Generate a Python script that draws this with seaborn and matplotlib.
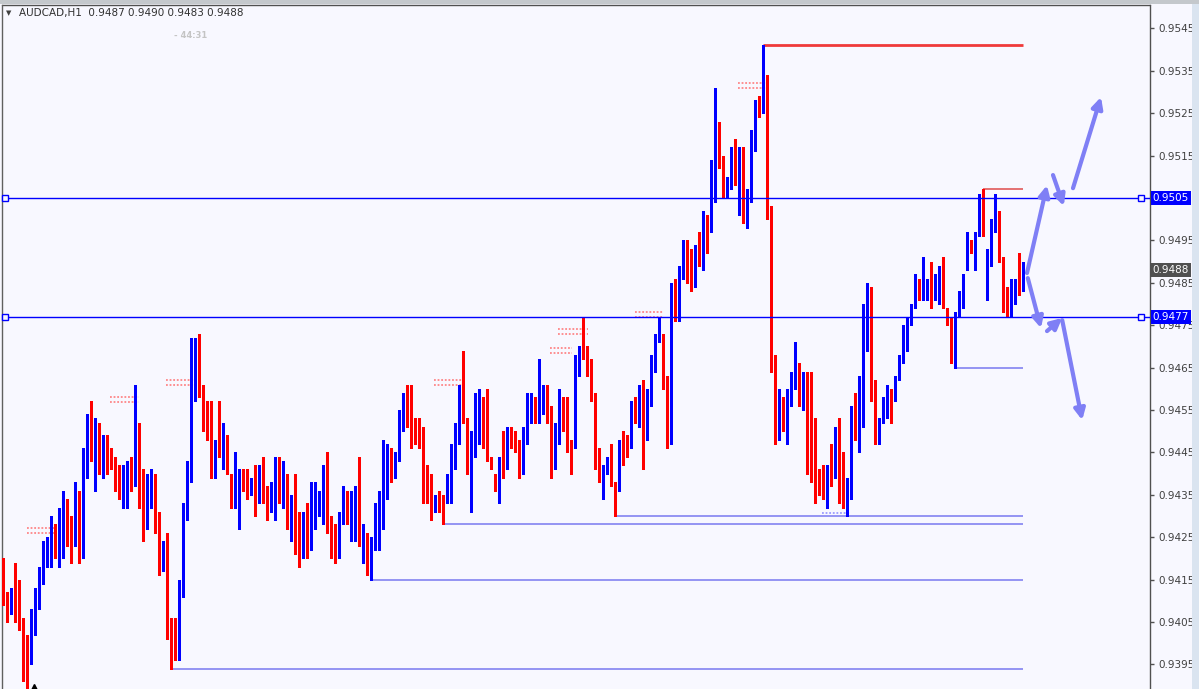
import numpy as np
import pandas as pd
import matplotlib.pyplot as plt
import seaborn as sns
from matplotlib.patches import Rectangle

# Bougies AUDCAD H1, valeurs en pips (x 0.0001)
opens = [9414, 9409, 9409, 9411, 9409, 9406, 9400, 9396, 9405, 9410,
         9418, 9419, 9422, 9427, 9423, 9428, 9431, 9427, 9423, 9435,
         9422, 9441, 9453, 9446, 9449, 9442, 9445, 9445, 9442, 9438,
         9436, 9437, 9441, 9440, 9451, 9439, 9428, 9433, 9438, 9428,
         9420, 9423, 9403, 9403, 9399, 9412, 9431, 9440, 9460, 9469,
         9459, 9456, 9455, 9441, 9457, 9446, 9448, 9440, 9435, 9437,
         9440, 9439, 9438, 9439, 9434, 9440, 9437, 9433, 9436, 9444,
         9434, 9438, 9429, 9433, 9427, 9424, 9428, 9425, 9430, 9433,
         9434, 9440, 9429, 9425, 9422, 9431, 9435, 9430, 9433, 9435,
         9422, 9423, 9417, 9424, 9432, 9437, 9442, 9442, 9439, 9444,
         9454, 9459, 9457, 9450, 9451, 9449, 9438, 9439, 9434, 9434,
         9435, 9433, 9438, 9444, 9447, 9457, 9453, 9440, 9444, 9450,
         9454, 9455, 9444, 9440, 9437, 9445, 9443, 9450, 9449, 9448,
         9440, 9448, 9455, 9458, 9455, 9457, 9460, 9456, 9444, 9451,
         9456, 9454, 9446, 9446, 9469, 9469, 9468, 9467, 9459, 9446,
         9440, 9443, 9443, 9438, 9438, 9447, 9447, 9448, 9458, 9454,
         9458, 9450, 9461, 9469, 9471, 9473, 9463, 9454, 9483, 9479,
         9488, 9490, 9488, 9486, 9493, 9492, 9499, 9500, 9508, 9523,
         9514, 9507, 9508, 9514, 9510, 9513, 9505, 9505, 9519, 9527,
         9525, 9529, 9502, 9466, 9451, 9453, 9449, 9461, 9462, 9466,
         9458, 9463, 9443, 9445, 9439, 9440, 9438, 9441, 9440, 9447,
         9442, 9432, 9434, 9455, 9449, 9458, 9469, 9484, 9462, 9449,
         9453, 9457, 9458, 9458, 9464, 9466, 9472, 9476, 9480, 9485,
         9482, 9483, 9485, 9484, 9487, 9489, 9479, 9477, 9470, 9479,
         9479, 9488, 9494, 9491, 9497, 9504, 9485, 9492, 9501, 9502,
         9491, 9484, 9478, 9483, 9488, 9487]
highs = [9420, 9412, 9413, 9419, 9415, 9406, 9402, 9408, 9413, 9418,
         9424, 9425, 9430, 9428, 9432, 9436, 9434, 9430, 9438, 9436,
         9446, 9454, 9457, 9453, 9452, 9449, 9449, 9446, 9444, 9442,
         9442, 9443, 9444, 9461, 9452, 9441, 9440, 9441, 9440, 9431,
         9424, 9426, 9406, 9406, 9415, 9433, 9443, 9472, 9472, 9473,
         9461, 9457, 9457, 9448, 9457, 9452, 9449, 9440, 9445, 9441,
         9441, 9441, 9439, 9442, 9442, 9444, 9437, 9438, 9444, 9444,
         9443, 9440, 9435, 9440, 9431, 9431, 9433, 9438, 9438, 9436,
         9442, 9445, 9430, 9428, 9431, 9437, 9436, 9436, 9437, 9444,
         9428, 9426, 9425, 9433, 9436, 9448, 9447, 9446, 9445, 9455,
         9459, 9461, 9461, 9453, 9453, 9451, 9442, 9440, 9435, 9436,
         9435, 9440, 9447, 9452, 9461, 9469, 9453, 9450, 9459, 9460,
         9458, 9460, 9444, 9440, 9444, 9450, 9451, 9451, 9450, 9448,
         9451, 9459, 9459, 9458, 9467, 9461, 9461, 9456, 9452, 9460,
         9458, 9458, 9448, 9468, 9470, 9477, 9470, 9467, 9459, 9446,
         9442, 9444, 9447, 9438, 9448, 9450, 9449, 9457, 9458, 9461,
         9462, 9460, 9468, 9473, 9477, 9473, 9463, 9485, 9486, 9489,
         9495, 9495, 9493, 9494, 9497, 9502, 9501, 9514, 9531, 9523,
         9515, 9510, 9517, 9519, 9517, 9517, 9507, 9521, 9528, 9529,
         9541, 9534, 9503, 9468, 9460, 9458, 9460, 9464, 9471, 9466,
         9464, 9464, 9464, 9453, 9441, 9442, 9442, 9447, 9451, 9453,
         9445, 9439, 9456, 9459, 9463, 9480, 9485, 9484, 9462, 9453,
         9458, 9461, 9460, 9463, 9468, 9475, 9477, 9480, 9487, 9486,
         9491, 9486, 9490, 9487, 9489, 9491, 9479, 9477, 9478, 9483,
         9487, 9497, 9495, 9497, 9506, 9507, 9493, 9500, 9506, 9502,
         9491, 9484, 9486, 9486, 9492, 9490]
lows = [9409, 9405, 9407, 9405, 9403, 9391, 9389, 9395, 9402, 9408,
        9414, 9418, 9418, 9420, 9418, 9420, 9423, 9419, 9423, 9419,
        9420, 9439, 9443, 9436, 9440, 9439, 9440, 9441, 9436, 9434,
        9432, 9432, 9436, 9437, 9432, 9424, 9427, 9432, 9426, 9416,
        9417, 9401, 9394, 9396, 9396, 9411, 9429, 9438, 9457, 9458,
        9450, 9448, 9439, 9439, 9444, 9441, 9440, 9432, 9432, 9427,
        9436, 9434, 9435, 9430, 9433, 9433, 9429, 9431, 9429, 9433,
        9432, 9427, 9424, 9421, 9418, 9420, 9420, 9422, 9427, 9430,
        9428, 9426, 9420, 9419, 9420, 9428, 9428, 9424, 9424, 9423,
        9419, 9416, 9415, 9422, 9422, 9427, 9434, 9438, 9439, 9443,
        9450, 9451, 9446, 9447, 9446, 9433, 9433, 9429, 9431, 9431,
        9428, 9433, 9433, 9441, 9447, 9452, 9440, 9431, 9444, 9447,
        9446, 9443, 9441, 9436, 9433, 9439, 9441, 9446, 9445, 9439,
        9440, 9447, 9452, 9452, 9452, 9454, 9452, 9439, 9441, 9447,
        9450, 9445, 9440, 9446, 9463, 9467, 9463, 9457, 9441, 9438,
        9434, 9440, 9437, 9430, 9436, 9442, 9444, 9446, 9452, 9451,
        9441, 9448, 9456, 9464, 9471, 9460, 9446, 9447, 9476, 9476,
        9486, 9485, 9483, 9484, 9489, 9488, 9492, 9497, 9504, 9512,
        9505, 9505, 9507, 9508, 9501, 9499, 9498, 9504, 9516, 9524,
        9525, 9500, 9464, 9447, 9448, 9450, 9447, 9456, 9460, 9456,
        9455, 9440, 9438, 9433, 9435, 9434, 9432, 9437, 9439, 9433,
        9432, 9430, 9434, 9448, 9445, 9451, 9469, 9457, 9447, 9447,
        9452, 9453, 9452, 9457, 9462, 9466, 9469, 9475, 9479, 9481,
        9481, 9481, 9479, 9481, 9480, 9479, 9475, 9466, 9465, 9477,
        9479, 9488, 9492, 9488, 9496, 9496, 9481, 9489, 9497, 9490,
        9478, 9477, 9477, 9480, 9482, 9483]
closes = [9410, 9408, 9412, 9408, 9405, 9401, 9394, 9407, 9411, 9417,
          9420, 9423, 9426, 9422, 9427, 9432, 9426, 9425, 9434, 9423,
          9442, 9454, 9447, 9450, 9441, 9446, 9444, 9443, 9437, 9437,
          9438, 9441, 9439, 9450, 9440, 9427, 9434, 9439, 9427, 9419,
          9422, 9403, 9402, 9398, 9411, 9432, 9439, 9459, 9468, 9460,
          9457, 9454, 9440, 9446, 9445, 9447, 9441, 9436, 9436, 9441,
          9438, 9437, 9439, 9435, 9439, 9436, 9432, 9436, 9443, 9436,
          9436, 9429, 9432, 9426, 9424, 9428, 9425, 9431, 9434, 9434,
          9439, 9428, 9425, 9422, 9428, 9436, 9431, 9432, 9434, 9423,
          9424, 9418, 9423, 9431, 9436, 9443, 9444, 9438, 9445, 9455,
          9458, 9456, 9449, 9450, 9448, 9437, 9438, 9433, 9435, 9434,
          9432, 9437, 9445, 9448, 9456, 9452, 9441, 9443, 9449, 9453,
          9454, 9443, 9441, 9436, 9444, 9442, 9448, 9448, 9447, 9439,
          9449, 9456, 9457, 9454, 9458, 9459, 9452, 9443, 9452, 9455,
          9455, 9445, 9445, 9468, 9470, 9469, 9466, 9458, 9447, 9441,
          9442, 9444, 9437, 9437, 9446, 9446, 9447, 9457, 9453, 9457,
          9450, 9460, 9468, 9472, 9472, 9464, 9453, 9482, 9478, 9487,
          9491, 9487, 9487, 9494, 9493, 9498, 9499, 9507, 9522, 9515,
          9508, 9509, 9515, 9510, 9512, 9504, 9506, 9518, 9526, 9526,
          9528, 9501, 9465, 9450, 9454, 9450, 9460, 9463, 9465, 9457,
          9462, 9444, 9443, 9440, 9439, 9439, 9440, 9439, 9448, 9440,
          9433, 9433, 9454, 9450, 9457, 9468, 9485, 9463, 9450, 9452,
          9457, 9459, 9457, 9463, 9466, 9471, 9475, 9479, 9484, 9483,
          9484, 9484, 9483, 9486, 9488, 9480, 9476, 9469, 9478, 9480,
          9487, 9493, 9493, 9497, 9505, 9498, 9493, 9500, 9503, 9492,
          9483, 9477, 9486, 9486, 9487, 9488]

# Niveaux horizontaux (pips) et bougie de depart
blue_levels = [9505, 9477]
low_levels = [9394, 9415, 9428, 9430, 9465]
low_starts = [42, 92, 110, 153, 238]
high_levels = [9541, 9507]
high_starts = [190, 245]
line_end = 255

# Marques pointillees rouges sur les sommets (debut, fin, niveau)
mark_starts = [6.0, 26.8, 40.8, 107.8, 138.8, 136.8, 158.0, 183.8]
mark_ends = [13.0, 34.0, 48.0, 115.0, 146.2, 142.2, 165.0, 191.0]
mark_levels = [9426.5, 9457.5, 9461.5, 9461.5, 9473.5, 9469.0, 9477.5, 9531.5]

# Fleches de scenario (bougie, pips)
arrow_x0 = [256.0, 262.5, 267.5, 256.2, 261.0, 264.8]
arrow_y0 = [9487.3, 9510.4, 9507.3, 9486.1, 9473.6, 9476.2]
arrow_x1 = [261.0, 265.2, 274.5, 259.5, 264.8, 269.8]
arrow_y1 = [9508.0, 9503.1, 9528.8, 9474.3, 9476.7, 9452.6]

price_ticks = [9395, 9405, 9415, 9425, 9435, 9445, 9455, 9465, 9475, 9485,
               9495, 9505, 9515, 9525, 9535, 9545]

df = pd.DataFrame({'open': opens, 'high': highs, 'low': lows, 'close': closes}) / 10000
df['idx'] = np.arange(len(df))
df['color'] = np.where(df['close'] > df['open'], '#0000ff', '#ff0000')

sns.set_theme(style='white')
plt.rcParams['font.family'] = ['DejaVu Sans']

bg = '#f8f8ff'
W, H = 1199, 689
fig = plt.figure(figsize=(W / 100, H / 100), dpi=100, facecolor=bg)
# bande bleue a droite et cadre du haut
fig.patches.append(Rectangle((1192 / W, 0), 1 - 1192 / W, 1, transform=fig.transFigure,
                             facecolor='#dae4f0', edgecolor='none', zorder=0))
fig.patches.append(Rectangle((0, 1 - 4 / H), 1, 4 / H, transform=fig.transFigure,
                             facecolor='#c4c8cc', edgecolor='none', zorder=0))

ax = fig.add_axes([2 / W, 0, 1148 / W, 684 / H])
ax.set_facecolor(bg)
ax.set_xlim(-0.25, 286.75)
ax.set_ylim(0.93892, 0.95505)

# meches et corps des bougies
ax.vlines(df['idx'], df['low'], df['high'], colors=df['color'], lw=1, antialiased=False, zorder=3)
body_low = np.minimum(df['open'], df['close'])
body_h = np.maximum((df['close'] - df['open']).abs(), 0.000025)
ax.bar(df['idx'], body_h, bottom=body_low, width=0.62, color=df['color'],
       linewidth=0, antialiased=False, zorder=3)

# lignes horizontales bleues (support / resistance)
for lv in blue_levels:
    ax.axhline(lv / 10000, color='#0000ff', lw=1, zorder=4)
    ax.plot([0.5, 284.5], [lv / 10000] * 2, ls='none', marker='s', ms=4,
            mfc=bg, mec='#0000ff', mew=1, zorder=5, clip_on=False)

# lignes des plus bas / plus hauts
for lv, st in zip(low_levels, low_starts):
    ax.hlines(lv / 10000, st, line_end, color='#8c8cf2', lw=1.3, zorder=2)
ax.hlines(high_levels[0] / 10000, high_starts[0], line_end, color='#f03a3a', lw=2, zorder=2)
ax.hlines(high_levels[1] / 10000, high_starts[1], line_end, color='#e05a5a', lw=1.2, zorder=2)

# petites marques pointillees
for s, e, lv in zip(mark_starts, mark_ends, mark_levels):
    for off in (0.6, -0.6):
        ax.hlines((lv + off) / 10000, s, e, color='#ff6a6a', lw=1.3,
                  linestyles=(0, (1, 1)), alpha=0.8, zorder=2)
ax.hlines(9430.7 / 10000, 204.8, 211.8, color='#9a9aff', lw=1.3, linestyles=(0, (1, 1)), zorder=2)

# fleches
for x0, y0, x1, y1 in zip(arrow_x0, arrow_y0, arrow_x1, arrow_y1):
    ax.annotate('', xy=(x1, y1 / 10000), xytext=(x0, y0 / 10000),
                arrowprops=dict(arrowstyle='-|>', color='#7f7ff5', lw=3, mutation_scale=16,
                                shrinkA=0, shrinkB=0), zorder=6)

# marqueur noir en bas a gauche
ax.plot(7.8, 0.93893, marker='^', color='black', ms=7, clip_on=True, zorder=6)

# axe des prix a droite (0.9505 est cache par l'etiquette bleue)
ax.yaxis.tick_right()
ax.set_yticks([t / 10000 for t in price_ticks])
ax.set_yticklabels(['' if t == 9505 else f'{t / 10000:.4f}' for t in price_ticks])
ax.tick_params(axis='y', direction='out', length=3, width=1, pad=3,
               labelsize=7.5, colors='#505050', labelcolor='#404040')
ax.set_xticks([])
for side in ['top', 'bottom']:
    ax.spines[side].set_visible(False)
ax.spines['left'].set_color('#606060')
ax.spines['right'].set_color('#505050')
ax.spines['left'].set_linewidth(1)
ax.spines['right'].set_linewidth(1)
ax.plot([0, 1], [1, 1], transform=ax.transAxes, color='#505050', lw=1, clip_on=False)

# etiquettes de prix
tr = ax.get_yaxis_transform()
for lv, fc in [(9505, '#0000ff'), (9477, '#0000ff'), (9488, '#505050')]:
    ax.text(1.0025, lv / 10000, f'{lv / 10000:.4f}', transform=tr, ha='left', va='center',
            fontsize=7.5, color='white', zorder=10, clip_on=False,
            bbox=dict(boxstyle='square,pad=0.2', facecolor=fc, edgecolor='none'))

# textes d'en-tete
fig.text(6 / W, 1 - 13 / H, '▼', fontsize=5, color='#404040', va='center')
fig.text(19 / W, 1 - 13 / H, 'AUDCAD,H1  0.9487 0.9490 0.9483 0.9488', fontsize=7.5,
         color='#303030', va='center')
fig.text(174 / W, 1 - 35 / H, '- 44:31', fontsize=6, color='#c4c4c4', va='center',
         fontweight='bold')

fig.savefig('out.png', dpi=100, facecolor=bg)
